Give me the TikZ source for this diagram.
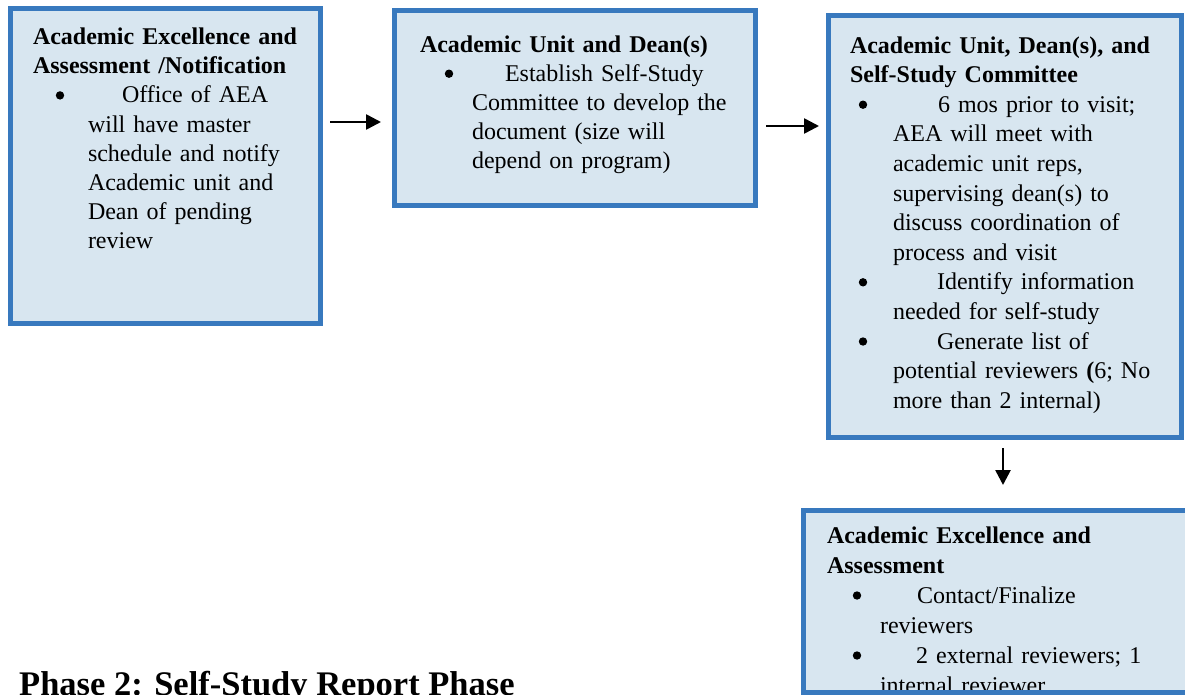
\documentclass[tikz,border=0pt]{standalone}
\usepackage{fontspec}
\setmainfont{Liberation Serif}
\usetikzlibrary{arrows.meta,calc}
\setlength\parindent{0pt}
\definecolor{boxfill}{RGB}{216,230,240}
\definecolor{boxline}{RGB}{56,121,190}
\newcommand\bigbul{\makebox[0pt]{\tikz[overlay,x=1pt,y=1pt]\fill[black] (0,7.5) circle (4.2);}}
\newcommand\bfirst[3]{\hspace*{#1pt}\bigbul\hspace*{\dimexpr #2pt-#1pt\relax}#3}
\newcommand\bcont[2]{\hspace*{#1pt}#2}
\newcommand\fstrut{\rule{0pt}{18pt}}
\begin{document}
\begin{tikzpicture}[x=1pt,y=-1pt,
  box/.style={draw=boxline,fill=boxfill,line width=5pt,inner sep=0pt,outer sep=0pt,anchor=north west},
  txt/.style={inner sep=0pt,outer sep=0pt,anchor=north west,align=left},
  arr/.style={line width=2.6pt,-{Triangle[length=15pt,width=15pt]}}]
\useasboundingbox (0,0) rectangle (1185,694);
\clip (0,0) rectangle (1185,694);
\fill[white] (0,0) rectangle (1185,694);
% boxes
\node[box,minimum width=310pt,minimum height=314.5pt] (b1) at (10,8.5) {};
\node[box,minimum width=361pt,minimum height=194.5pt] (b2) at (394,10.5) {};
\node[box,minimum width=353pt,minimum height=422pt] (b3) at (828,15) {};
\node[box,minimum width=430pt,minimum height=182pt] (b4) at (803,510) {};
% texts
\node[txt,text width=285pt,font=\fontsize{24}{29.2}\selectfont] (t1) at (33,26.5) {%
\fstrut\textbf{Academic Excellence and}\\
\textbf{Assessment /Notification}\\
\bfirst{27}{89}{Office of AEA}\\
\bcont{55}{will have master}\\
\bcont{55}{schedule and notify}\\
\bcont{55}{Academic unit and}\\
\bcont{55}{Dean of pending}\\
\bcont{55}{review}};
\node[txt,text width=330pt,font=\fontsize{24}{29.2}\selectfont] (t2) at (420,34) {%
\fstrut\textbf{Academic Unit and Dean(s)}\\
\bfirst{29}{85}{Establish Self-Study}\\
\bcont{52}{Committee to develop the}\\
\bcont{52}{document (size will}\\
\bcont{52}{depend on program)}};
\node[txt,text width=328pt,font=\fontsize{24}{29.6}\selectfont] (t3) at (850,35) {%
\fstrut\textbf{Academic Unit, Dean(s), and}\\
\textbf{Self-Study Committee}\\
\bfirst{13}{88}{6 mos prior to visit;}\\
\bcont{43}{AEA will meet with}\\
\bcont{43}{academic unit reps,}\\
\bcont{43}{supervising dean(s) to}\\
\bcont{43}{discuss coordination of}\\
\bcont{43}{process and visit}\\
\bfirst{13}{87}{Identify information}\\
\bcont{43}{needed for self-study}\\
\bfirst{13}{87}{Generate list of}\\
\bcont{43}{potential reviewers \textbf{(}6; No}\\
\bcont{43}{more than 2 internal)}};
\begin{scope}
\clip (805.5,512.5) rectangle (1185,689.5);
\node[txt,text width=350pt,font=\fontsize{24}{30}\selectfont] (t4) at (827,525) {%
\fstrut\textbf{Academic Excellence and}\\
\textbf{Assessment}\\
\bfirst{30}{90}{Contact/Finalize}\\
\bcont{53}{reviewers}\\
\bfirst{30}{89}{2 external reviewers; 1}\\
\bcont{53}{internal reviewer}};
\end{scope}
\node[inner sep=0pt,anchor=base west,font=\fontsize{34.5}{40}\selectfont\bfseries] (ph) at (19,695) {Phase 2: Self-Study Report Phase};
% arrows
\draw[arr] ($(b1.north east)+(10,113.5)$) -- ($(b2.north west)+(-13,111.5)$);
\draw[arr] ($(b2.north east)+(11,115.5)$) -- ($(b3.north west)+(-9,111)$);
\draw[arr] ($(b3.south west)+(175,11)$) -- ($(b4.north west)+(200,-25)$);
\end{tikzpicture}
\end{document}
